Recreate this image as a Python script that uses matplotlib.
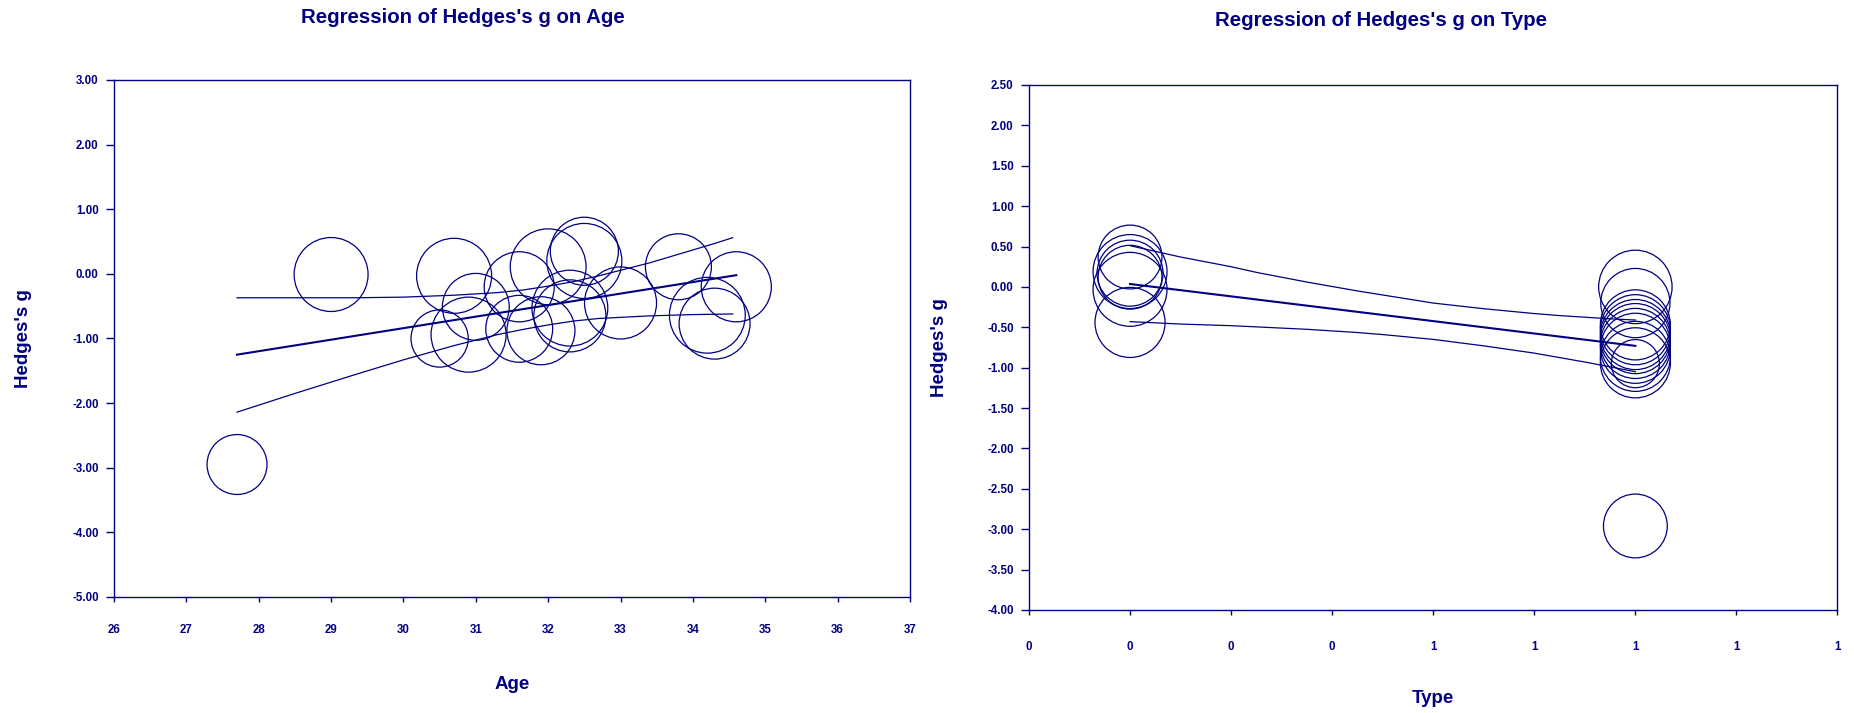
import matplotlib
matplotlib.use('Agg')
import matplotlib.pyplot as plt

plt.rcParams['font.family'] = ['Liberation Sans', 'DejaVu Sans']
NAVY = '#000080'

# ---------------- data: left panel (Age) ----------------
age = [27.7, 29.0, 30.7, 31.0, 30.5, 30.9, 31.6, 32.0, 31.6, 31.9,
       32.3, 32.3, 32.5, 32.5, 33.0, 33.8, 34.6, 34.2, 34.3]
g_age = [-2.95, -0.01, -0.03, -0.51, -1.00, -0.94, -0.20, 0.11, -0.85, -0.88,
         -0.53, -0.65, 0.35, 0.20, -0.45, 0.11, -0.20, -0.64, -0.77]
w_age = [9.0, 13.7, 14.1, 11.2, 8.2, 14.1, 12.3, 14.4, 11.2, 11.6,
         14.4, 13.0, 11.6, 14.1, 13.0, 10.9, 12.3, 14.4, 12.6]

age_fit = [27.7, 34.6]
g_age_fit = [-1.25, -0.02]
age_ci = [27.7, 28.5, 29.3, 30.0, 30.7, 31.3, 31.65, 32.0, 32.35, 32.7, 33.05, 33.4, 33.7, 34.0, 34.3, 34.55]
age_ci_upper = [-0.37, -0.37, -0.37, -0.36, -0.33, -0.29, -0.25, -0.19, -0.12, -0.03, 0.07, 0.17, 0.27, 0.37, 0.47, 0.56]
age_ci_lower = [-2.14, -1.85, -1.57, -1.33, -1.11, -0.94, -0.86, -0.79, -0.73, -0.69, -0.67, -0.65, -0.64, -0.63, -0.625, -0.62]

age_ticks = [26, 27, 28, 29, 30, 31, 32, 33, 34, 35, 36, 37]
age_tick_labels = ['26', '27', '28', '29', '30', '31', '32', '33', '34', '35', '36', '37']
g_ticks_left = [3.0, 2.0, 1.0, 0.0, -1.0, -2.0, -3.0, -4.0, -5.0]
g_tick_labels_left = ['3.00', '2.00', '1.00', '0.00', '-1.00', '-2.00', '-3.00', '-4.00', '-5.00']

# ---------------- data: right panel (Type) ----------------
type_vals = [0, 0, 0, 0, 0, 0,
             1, 1, 1, 1, 1, 1, 1, 1, 1, 1, 1, 1]
g_type = [0.37, 0.19, 0.17, 0.12, -0.03, -0.44,
          0.00, -0.20, -0.47, -0.53, -0.59, -0.64, -0.70, -0.76, -0.86, -0.94, -0.95, -2.96]
w_type = [10.2, 13.7, 10.9, 10.2, 13.7, 12.3,
          13.5, 12.0, 12.3, 12.3, 12.3, 12.3, 12.3, 12.3, 12.3, 12.3, 5.8, 10.2]

type_fit = [0, 1]
g_type_fit = [0.036, -0.73]
type_ci = [0.0, 0.05, 0.1, 0.15, 0.2, 0.25, 0.3, 0.35, 0.4, 0.45, 0.5, 0.55, 0.6,
           0.65, 0.7, 0.75, 0.8, 0.85, 0.9, 0.95, 1.0]
type_ci_upper = [0.51, 0.44, 0.37, 0.31, 0.25, 0.18, 0.12, 0.06, 0.005, -0.05, -0.10, -0.15,
                 -0.20, -0.235, -0.27, -0.30, -0.33, -0.355, -0.375, -0.395, -0.41]
type_ci_lower = [-0.43, -0.445, -0.46, -0.47, -0.48, -0.495, -0.51, -0.525, -0.545, -0.565,
                 -0.59, -0.62, -0.65, -0.69, -0.73, -0.775, -0.82, -0.875, -0.93, -0.99, -1.05]

type_ticks = [-0.2, 0.0, 0.2, 0.4, 0.6, 0.8, 1.0, 1.2, 1.4]
type_tick_labels = ['0', '0', '0', '0', '1', '1', '1', '1', '1']
g_ticks_right = [2.5, 2.0, 1.5, 1.0, 0.5, 0.0, -0.5, -1.0, -1.5, -2.0, -2.5, -3.0, -3.5, -4.0]
g_tick_labels_right = ['2.50', '2.00', '1.50', '1.00', '0.50', '0.00', '-0.50', '-1.00',
                       '-1.50', '-2.00', '-2.50', '-3.00', '-3.50', '-4.00']

SIZE_SCALE = 207.0

fig = plt.figure(figsize=(18.54, 7.13), dpi=100)
fig.patch.set_facecolor('white')

axL = fig.add_axes([0.0615, 0.1627, 0.4293, 0.7251])
axR = fig.add_axes([0.555, 0.1445, 0.4361, 0.7363])


def style(ax, xlab_y, ylab_x, xpad):
    for sp in ax.spines.values():
        sp.set_color(NAVY)
        sp.set_linewidth(1.0)
    ax.tick_params(axis='y', direction='out', length=5.5, width=1.0, color=NAVY,
                   labelcolor=NAVY, labelsize=8.3, pad=5.5)
    ax.tick_params(axis='x', direction='out', length=3.6, width=1.0, color=NAVY,
                   labelcolor=NAVY, labelsize=8.3, pad=xpad)
    for lab in ax.get_xticklabels() + ax.get_yticklabels():
        lab.set_fontweight('bold')
    ax.xaxis.label.set_color(NAVY)
    ax.yaxis.label.set_color(NAVY)
    ax.xaxis.set_label_coords(0.5, xlab_y)
    ax.yaxis.set_label_coords(ylab_x, 0.5)


# ---- left ----
axL.scatter(age, g_age, s=[w * SIZE_SCALE for w in w_age], facecolors='none',
            edgecolors=NAVY, linewidths=0.9, zorder=2)
axL.plot(age_fit, g_age_fit, color=NAVY, lw=1.5, zorder=3)
axL.plot(age_ci, age_ci_upper, color=NAVY, lw=0.9, zorder=3)
axL.plot(age_ci, age_ci_lower, color=NAVY, lw=0.9, zorder=3)
axL.set_xlim(26, 37)
axL.set_ylim(-5, 3)
axL.set_xticks(age_ticks)
axL.set_xticklabels(age_tick_labels)
axL.set_yticks(g_ticks_left)
axL.set_yticklabels(g_tick_labels_left)
axL.set_xlabel('Age', fontsize=13.5, fontweight='bold')
axL.set_ylabel("Hedges's g", fontsize=13.5, fontweight='bold')
style(axL, -0.152, -0.103, 15.5)

# ---- right ----
axR.scatter(type_vals, g_type, s=[w * SIZE_SCALE for w in w_type], facecolors='none',
            edgecolors=NAVY, linewidths=0.9, zorder=2)
axR.plot(type_fit, g_type_fit, color=NAVY, lw=1.5, zorder=3)
axR.plot(type_ci, type_ci_upper, color=NAVY, lw=0.9, zorder=3)
axR.plot(type_ci, type_ci_lower, color=NAVY, lw=0.9, zorder=3)
axR.set_xlim(-0.2, 1.4)
axR.set_ylim(-4.0, 2.5)
axR.set_xticks(type_ticks)
axR.set_xticklabels(type_tick_labels)
axR.set_yticks(g_ticks_right)
axR.set_yticklabels(g_tick_labels_right)
axR.set_xlabel('Type', fontsize=13.5, fontweight='bold')
axR.set_ylabel("Hedges's g", fontsize=13.5, fontweight='bold')
style(axR, -0.153, -0.100, 18.5)

fig.text(0.2497, 0.976, "Regression of Hedges's g on Age", ha='center', va='center',
         fontsize=14.7, fontweight='bold', color=NAVY)
fig.text(0.745, 0.971, "Regression of Hedges's g on Type", ha='center', va='center',
         fontsize=14.7, fontweight='bold', color=NAVY)

fig.savefig('out.png', dpi=100, facecolor='white')
